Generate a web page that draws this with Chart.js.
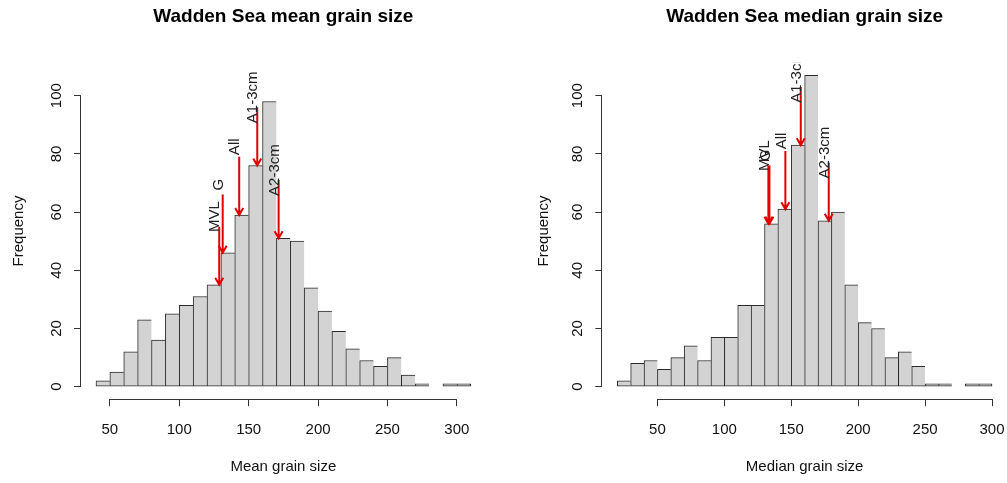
<!DOCTYPE html>
<html>
<head>
<meta charset="utf-8">
<script src="https://cdn.jsdelivr.net/npm/chart.js@4.4.1/dist/chart.umd.min.js"></script>
<style>
    html, body { margin: 0; padding: 0; background: #fff; }
    #wrap { position: relative; width: 1007px; height: 483px; overflow: hidden; }
    .panel { position: absolute; top: 0; height: 483px; }
    #left { left: 0; width: 520px; }
    #right { left: 520px; width: 487px; }
</style>
</head>
<body>
<div id="wrap">
    <div class="panel" id="left"><canvas id="meanChart"></canvas></div>
    <div class="panel" id="right"><canvas id="medianChart"></canvas></div>
</div>
<script>
// histogram bins (lower edge, width 10) and counts
var meanBinStart = [40, 50, 60, 70, 80, 90, 100, 110, 120, 130, 140, 150, 160, 170,
                    180, 190, 200, 210, 220, 230, 240, 250, 260, 270, 280, 290, 300];
var meanCounts = [2, 5, 12, 23, 16, 25, 28, 31, 35, 46, 59, 76, 98, 51,
                  50, 34, 26, 19, 13, 9, 7, 10, 4, 1, 0, 1, 1];

var medianBinStart = [20, 30, 40, 50, 60, 70, 80, 90, 100, 110, 120, 130, 140, 150,
                      160, 170, 180, 190, 200, 210, 220, 230, 240, 250, 260, 270, 280, 290];
var medianCounts = [2, 8, 9, 6, 10, 14, 9, 17, 17, 28, 28, 56, 61, 83,
                    107, 57, 60, 35, 22, 20, 10, 12, 7, 1, 1, 0, 1, 1];

var xTickValues = [50, 100, 150, 200, 250, 300];
var yTickValues = [0, 20, 40, 60, 80, 100];

// red arrows: label, position on x, bar height the arrow points at
var meanArrowLabels = ['MVL', 'G', 'All', 'A1-3cm', 'A2-3cm'];
var meanArrowX = [128.8, 131.3, 143.2, 156.2, 171.6];
var meanArrowY = [35, 46, 59, 76, 51];

var medianArrowLabels = ['MVL', 'G', 'All', 'A1-3cm', 'A2-3cm'];
var medianArrowX = [132.9, 133.7, 145.6, 157.1, 178.0];
var medianArrowY = [56, 56, 61, 83, 57];

var arrowLength = 20;

var FONT = "'Liberation Sans', Arial, sans-serif";
Chart.defaults.font.family = FONT;
Chart.defaults.color = '#111';

// R-style axis lines that only run from first to last tick
var axisLinePlugin = {
    id: 'axisLines',
    afterDraw: function(chart) {
        var ctx = chart.ctx, xs = chart.scales.x, ys = chart.scales.y, area = chart.chartArea;
        ctx.save();
        ctx.strokeStyle = '#333';
        ctx.lineWidth = 1;
        ctx.beginPath();
        var yb = Math.round(area.bottom) + 0.5;
        ctx.moveTo(xs.getPixelForValue(xTickValues[0]), yb);
        ctx.lineTo(xs.getPixelForValue(xTickValues[xTickValues.length - 1]), yb);
        var xl = Math.round(area.left) - 0.5;
        ctx.moveTo(xl, ys.getPixelForValue(yTickValues[0]));
        ctx.lineTo(xl, ys.getPixelForValue(yTickValues[yTickValues.length - 1]));
        ctx.stroke();
        ctx.restore();
    }
};

function makeArrowPlugin(labels, xv, yv) {
    return {
        id: 'arrows',
        afterDatasetsDraw: function(chart) {
            var ctx = chart.ctx, xs = chart.scales.x, ys = chart.scales.y, area = chart.chartArea;
            ctx.save();
            ctx.beginPath();
            ctx.rect(area.left, area.top, area.right - area.left, area.bottom - area.top);
            ctx.clip();
            labels.forEach(function(label, i) {
                var px = xs.getPixelForValue(xv[i]);
                var tip = ys.getPixelForValue(yv[i]);
                var top = ys.getPixelForValue(yv[i] + arrowLength);
                ctx.strokeStyle = '#e00000';
                ctx.lineWidth = 2;
                ctx.beginPath();
                ctx.moveTo(px, top);
                ctx.lineTo(px, tip);
                ctx.moveTo(px - 4, tip - 7);
                ctx.lineTo(px, tip);
                ctx.lineTo(px + 4, tip - 7);
                ctx.stroke();

                ctx.save();
                ctx.translate(px - 4, top - 10);
                ctx.rotate(-Math.PI / 2);
                ctx.fillStyle = '#222';
                ctx.font = '15px ' + FONT;
                ctx.textAlign = 'center';
                ctx.textBaseline = 'middle';
                ctx.fillText(label, 0, 0);
                ctx.restore();
            });
            ctx.restore();
        }
    };
}

function makeHist(canvasId, cfg) {
    var n = cfg.starts.length;
    new Chart(document.getElementById(canvasId), {
        type: 'bar',
        data: {
            datasets: [{
                data: cfg.starts.map(function(s, i) { return { x: s + 5, y: cfg.counts[i] }; }),
                backgroundColor: '#d3d3d3',
                borderColor: '#2a2a2a',
                borderWidth: function(c) {
                    return { left: 1, top: 1, bottom: 1, right: c.dataIndex === n - 1 ? 1 : 0 };
                },
                borderSkipped: false,
                barPercentage: 1,
                categoryPercentage: 1
            }]
        },
        options: {
            responsive: true,
            maintainAspectRatio: false,
            animation: false,
            events: [],
            layout: { padding: { left: 0, right: cfg.padRight, top: 0, bottom: 0 } },
            plugins: {
                legend: { display: false },
                tooltip: { enabled: false },
                title: {
                    display: true,
                    text: cfg.title,
                    fullSize: false,
                    color: '#000',
                    font: { size: 19, weight: 'bold' },
                    padding: { top: 5, bottom: 35 }
                }
            },
            scales: {
                x: {
                    type: 'linear',
                    min: cfg.xMin,
                    max: cfg.xMax,
                    offset: false,
                    grid: { display: true, offset: false, drawOnChartArea: false, drawTicks: true, tickLength: 7, color: '#333' },
                    border: { display: false },
                    ticks: { autoSkip: false, maxRotation: 0, padding: 14.8, color: '#111', font: { size: 15 } },
                    title: { display: true, text: cfg.xTitle, color: '#111', font: { size: 15 }, padding: { top: 0, bottom: 7 } },
                    afterBuildTicks: function(s) {
                        s.ticks = xTickValues.map(function(v) { return { value: v }; });
                    },
                    afterFit: function(s) {
                        s.height = 83.8;
                        s.paddingLeft = 0;
                        s.paddingRight = 0;
                    }
                },
                y: {
                    min: -4.3,
                    max: 111.3,
                    grid: { display: true, drawOnChartArea: false, drawTicks: true, tickLength: 7, color: '#333' },
                    border: { display: false },
                    ticks: { minRotation: 90, maxRotation: 90, crossAlign: 'center', padding: 4.5, color: '#111', font: { size: 15 } },
                    title: { display: true, text: 'Frequency', color: '#111', font: { size: 15 }, padding: { top: cfg.yTitlePad, bottom: 0 } },
                    afterBuildTicks: function(s) {
                        s.ticks = yTickValues.map(function(v) { return { value: v }; });
                    },
                    afterFit: function(s) {
                        s.width = cfg.yWidth;
                        s.paddingTop = 0;
                        s.paddingBottom = 0;
                    }
                }
            }
        },
        plugins: [axisLinePlugin, makeArrowPlugin(cfg.arrowLabels, cfg.arrowX, cfg.arrowY)]
    });
}

makeHist('meanChart', {
    starts: meanBinStart,
    counts: meanCounts,
    title: 'Wadden Sea mean grain size',
    xTitle: 'Mean grain size',
    xMin: 29.2,
    xMax: 320.8,
    padRight: 34.3,
    yWidth: 81,
    yTitlePad: 10.3,
    arrowLabels: meanArrowLabels,
    arrowX: meanArrowX,
    arrowY: meanArrowY
});

makeHist('medianChart', {
    starts: medianBinStart,
    counts: medianCounts,
    title: 'Wadden Sea median grain size',
    xTitle: 'Median grain size',
    xMin: 8.8,
    xMax: 311.2,
    padRight: 0,
    yWidth: 82.3,
    yTitlePad: 15.3,
    arrowLabels: medianArrowLabels,
    arrowX: medianArrowX,
    arrowY: medianArrowY
});
</script>
</body>
</html>
